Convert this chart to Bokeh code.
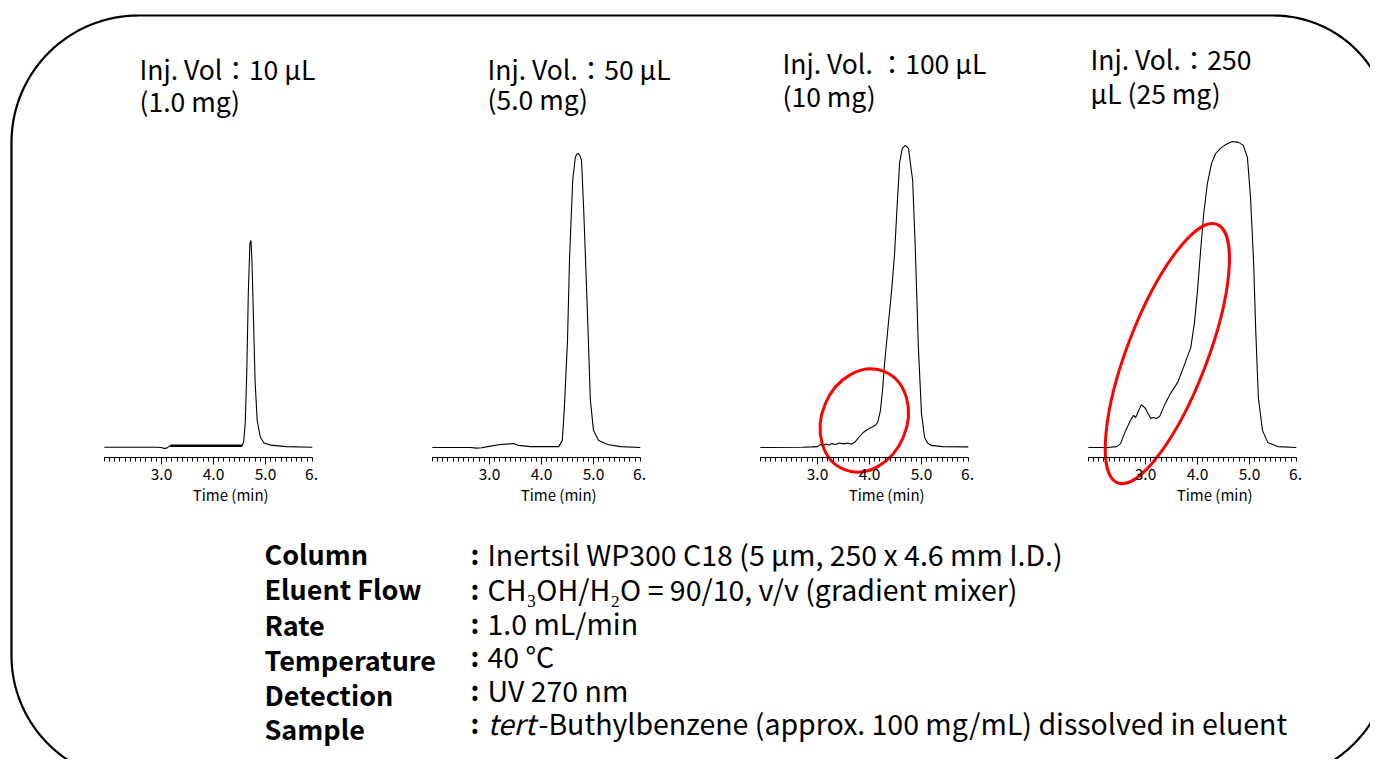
import numpy as np
from bokeh.plotting import figure
from bokeh.models import Range1d, LinearAxis, FixedTicker, Label
from bokeh.embed import file_html
from bokeh.resources import INLINE

# ---------------- data ----------------
# retention time (min) and detector signal (arb. units) for each injection volume
t_10 = [1.90, 2.40, 2.90, 3.00, 3.05, 3.10, 3.14, 3.17, 3.60, 4.10, 4.55, 4.58, 4.61, 4.64,
        4.67, 4.70, 4.72, 4.74, 4.77, 4.80, 4.84, 4.90, 4.97, 5.10, 5.40, 5.90]
s_10 = [1, 1, 1, 0, -3, -2, 3, 6, 6, 6, 6, 20, 80, 250,
        520, 680, 690, 620, 420, 220, 90, 35, 15, 8, 3, 1]

t_50 = [1.90, 2.63, 2.75, 2.85, 2.96, 3.21, 3.46, 3.56, 3.79, 4.33, 4.40, 4.44, 4.50, 4.54,
        4.60, 4.65, 4.68, 4.71, 4.74, 4.77, 4.81, 4.88, 4.94, 5.00, 5.10, 5.27, 5.52, 5.90]
s_50 = [0, 0, -2, -1, 3, 10, 13, 7, 3, 3, 23, 133, 357, 633,
        890, 967, 978, 980, 972, 957, 800, 467, 157, 57, 23, 10, 3, 0]

t_100 = [1.90, 2.70, 2.90, 3.00, 3.06, 3.10, 3.16, 3.22, 3.28, 3.35, 3.42, 3.50, 3.58, 3.65,
         3.72, 3.80, 3.88, 3.96, 4.05, 4.12, 4.16, 4.21, 4.25, 4.29, 4.35, 4.42, 4.48, 4.54,
         4.58, 4.63, 4.69, 4.75, 4.83, 4.88, 4.94, 5.00, 5.06, 5.12, 5.19, 5.40, 5.90]
s_100 = [0, 1, 2, 3, 10, 5, 12, 8, 13, 10, 15, 12, 15, 11,
         18, 35, 50, 60, 68, 75, 85, 123, 190, 280, 390, 513, 640, 833,
         950, 997, 1007, 997, 890, 667, 333, 113, 33, 14, 7, 3, 2]

t_250 = [1.90, 2.27, 2.45, 2.52, 2.62, 2.71, 2.77, 2.81, 2.87, 2.92, 3.00, 3.10, 3.16, 3.21,
         3.27, 3.38, 3.48, 3.62, 3.73, 3.87, 3.94, 4.00, 4.06, 4.12, 4.19, 4.27, 4.35, 4.44,
         4.52, 4.58, 4.67, 4.79, 4.88, 4.96, 5.02, 5.08, 5.12, 5.17, 5.25, 5.35, 5.54, 5.90]
s_250 = [0, 0, 3, 13, 57, 90, 107, 100, 123, 143, 130, 97, 100, 97,
         103, 147, 180, 217, 267, 333, 413, 523, 657, 780, 880, 947, 980, 997,
         1007, 1013, 1020, 1017, 1007, 967, 833, 613, 390, 167, 57, 17, 3, 0]

series_t = [t_10, t_50, t_100, t_250]
series_s = [s_10, s_50, s_100, s_250]

title_line1 = ["Inj. Vol：10 μL", "Inj. Vol.：50 μL", "Inj. Vol. ：100 μL", "Inj. Vol.：250"]
title_line2 = ["(1.0 mg)", "(5.0 mg)", "(10 mg)", "μL  (25 mg)"]

tick_values = [3, 4, 5]
tick_labels = ["3.0", "4.0", "5.0"]
end_label = "6."
x_title = "Time (min)"

# highlighted regions (panel index, centre time, centre signal)
hl_panel = [2, 3]
hl_t = [3.90, 3.42]
hl_s = [90, 313]

cond_labels = ["Column", "Eluent  Flow", "Rate", "Temperature", "Detection", "Sample"]
cond_values = ["Inertsil WP300 C18 (5 μm, 250 x 4.6 mm I.D.)",
               "CH₃OH/H₂O = 90/10, v/v (gradient  mixer)",
               "1.0 mL/min",
               "40 °C",
               "UV 270 nm",
               "-Buthylbenzene (approx. 100 mg/mL) dissolved in eluent"]
sample_prefix = "tert"

# ---------------- layout (screen pixels) ----------------
OX, OY, W, H = 0, 0, 1370, 759
FONT = "Noto Sans CJK JP"
PX_PER_MIN = 52.0
T3_X = [161, 489, 817, 1145]         # x of t = 3.0 in each panel
SIG0_Y = 447                          # y of signal 0
PX_PER_SIG = 0.30
AXIS_Y = 457

p = figure(width=W, height=H, output_backend="svg", toolbar_location=None,
           x_axis_location=None, y_axis_location=None,
           x_range=Range1d(OX, OX + W), y_range=Range1d(-(OY + H), -OY),
           min_border=0, outline_line_color=None, background_fill_color="white",
           border_fill_color="white")
p.grid.visible = False

p.extra_y_ranges = {"sig": Range1d(-(OY + H - SIG0_Y) / PX_PER_SIG, (SIG0_Y - OY) / PX_PER_SIG)}
xr = {}
for k, x3 in enumerate(T3_X):
    xr[f"p{k}"] = Range1d(3.0 - (x3 - OX) / PX_PER_MIN, 3.0 + (OX + W - x3) / PX_PER_MIN)
p.extra_x_ranges = xr

minor = [round(v, 2) for v in np.arange(1.9, 5.91, 0.1)]

for k in range(4):
    rn = f"p{k}"
    p.line(series_t[k], series_s[k], x_range_name=rn, y_range_name="sig",
           line_color="black", line_width=1.1)
    ax = LinearAxis(x_range_name=rn, fixed_location=-AXIS_Y, bounds=(1.9, 5.9),
                    ticker=FixedTicker(ticks=tick_values, minor_ticks=minor),
                    major_label_overrides=dict(zip(tick_values, tick_labels)),
                    axis_line_color="black", axis_line_width=1,
                    major_tick_in=0, major_tick_out=7, minor_tick_in=0, minor_tick_out=4,
                    major_tick_line_color="black", minor_tick_line_color="black",
                    major_label_standoff=3,
                    major_label_text_font=FONT, major_label_text_font_size="15.5px",
                    major_label_text_color="black")
    p.add_layout(ax, "below")
    p.add_layout(Label(x=6.0, y=-(AXIS_Y + 10), x_range_name=rn, text=end_label,
                       x_offset=-6, text_align="center", text_baseline="top",
                       text_font=FONT, text_font_size="15.5px", text_color="black"))
    p.add_layout(Label(x=4.33, y=-494, x_range_name=rn, text=x_title,
                       text_align="center", text_baseline="middle",
                       text_font=FONT, text_font_size="15px", text_color="black"))

# thicker noisy baseline segment of the 10 µL trace
i0, i1 = t_10.index(3.17), t_10.index(4.55)
p.line(t_10[i0:i1 + 1], s_10[i0:i1 + 1], x_range_name="p0", y_range_name="sig",
       line_color="black", line_width=2.6)

# red highlight ellipses
ell_w = [106, 277]
ell_h = [85, 80]
ell_a = [67.5, 69]
for j, k in enumerate(hl_panel):
    p.ellipse(x=[hl_t[j]], y=[hl_s[j]], width=ell_w[j], height=ell_h[j], angle=ell_a[j],
              angle_units="deg", width_units="screen", height_units="screen",
              x_range_name=f"p{k}", y_range_name="sig",
              fill_color=None, line_color="#ff0000", line_width=3)

# panel titles
t1_xy = [(139, 68), (487, 68), (782, 62), (1090, 58)]
t2_xy = [(139, 100), (487, 98), (782, 95), (1090, 92)]
for k in range(4):
    for txt, (x, y) in ((title_line1[k], t1_xy[k]), (title_line2[k], t2_xy[k])):
        p.add_layout(Label(x=x, y=-y, text=txt, text_align="left", text_baseline="middle",
                           text_font=FONT, text_font_size="26.5px", text_color="black"))

# conditions block
lab_y = [553, 588, 624, 659, 694, 728]
val_y = [553, 588, 622, 655, 689, 722]
for i in range(6):
    p.add_layout(Label(x=264, y=-lab_y[i], text=cond_labels[i], text_align="left",
                       text_baseline="middle", text_font=FONT, text_font_size="27px",
                       text_font_style="bold", text_color="black"))
    p.add_layout(Label(x=470, y=-val_y[i], text=":", text_align="left",
                       text_baseline="middle", text_font=FONT, text_font_size="27px",
                       text_font_style="bold", text_color="black"))
vx = [487, 487, 487, 487, 487, 538]
for i in range(6):
    p.add_layout(Label(x=vx[i], y=-val_y[i], text=cond_values[i], text_align="left",
                       text_baseline="middle", text_font=FONT, text_font_size="28.5px",
                       text_color="black"))
p.add_layout(Label(x=487, y=-val_y[5], text=sample_prefix, text_align="left",
                   text_baseline="middle", text_font=FONT, text_font_size="28.5px",
                   text_font_style="italic", text_color="black"))

# rounded frame
def rounded_rect(x0, y0, x1, y1, r_tl, r_tr, r_br, r_bl, n=60):
    xs, ys = [], []
    def arc(cx, cy, r, a0, a1):
        a = np.radians(np.linspace(a0, a1, n))
        xs.extend(cx + r * np.cos(a)); ys.extend(cy + r * np.sin(a))
    arc(x1 - r_tr, y0 + r_tr, r_tr, -90, 0)
    arc(x1 - r_br, y1 - r_br, r_br, 0, 90)
    arc(x0 + r_bl, y1 - r_bl, r_bl, 90, 180)
    arc(x0 + r_tl, y0 + r_tl, r_tl, 180, 270)
    xs.append(xs[0]); ys.append(ys[0])
    return xs, ys

bx, by = rounded_rect(11, 15, 1390, 780, 127, 117, 125, 125)
p.line(bx, [-v for v in by], line_color="black", line_width=2.2)

open("out.html", "w").write(file_html(p, INLINE))
